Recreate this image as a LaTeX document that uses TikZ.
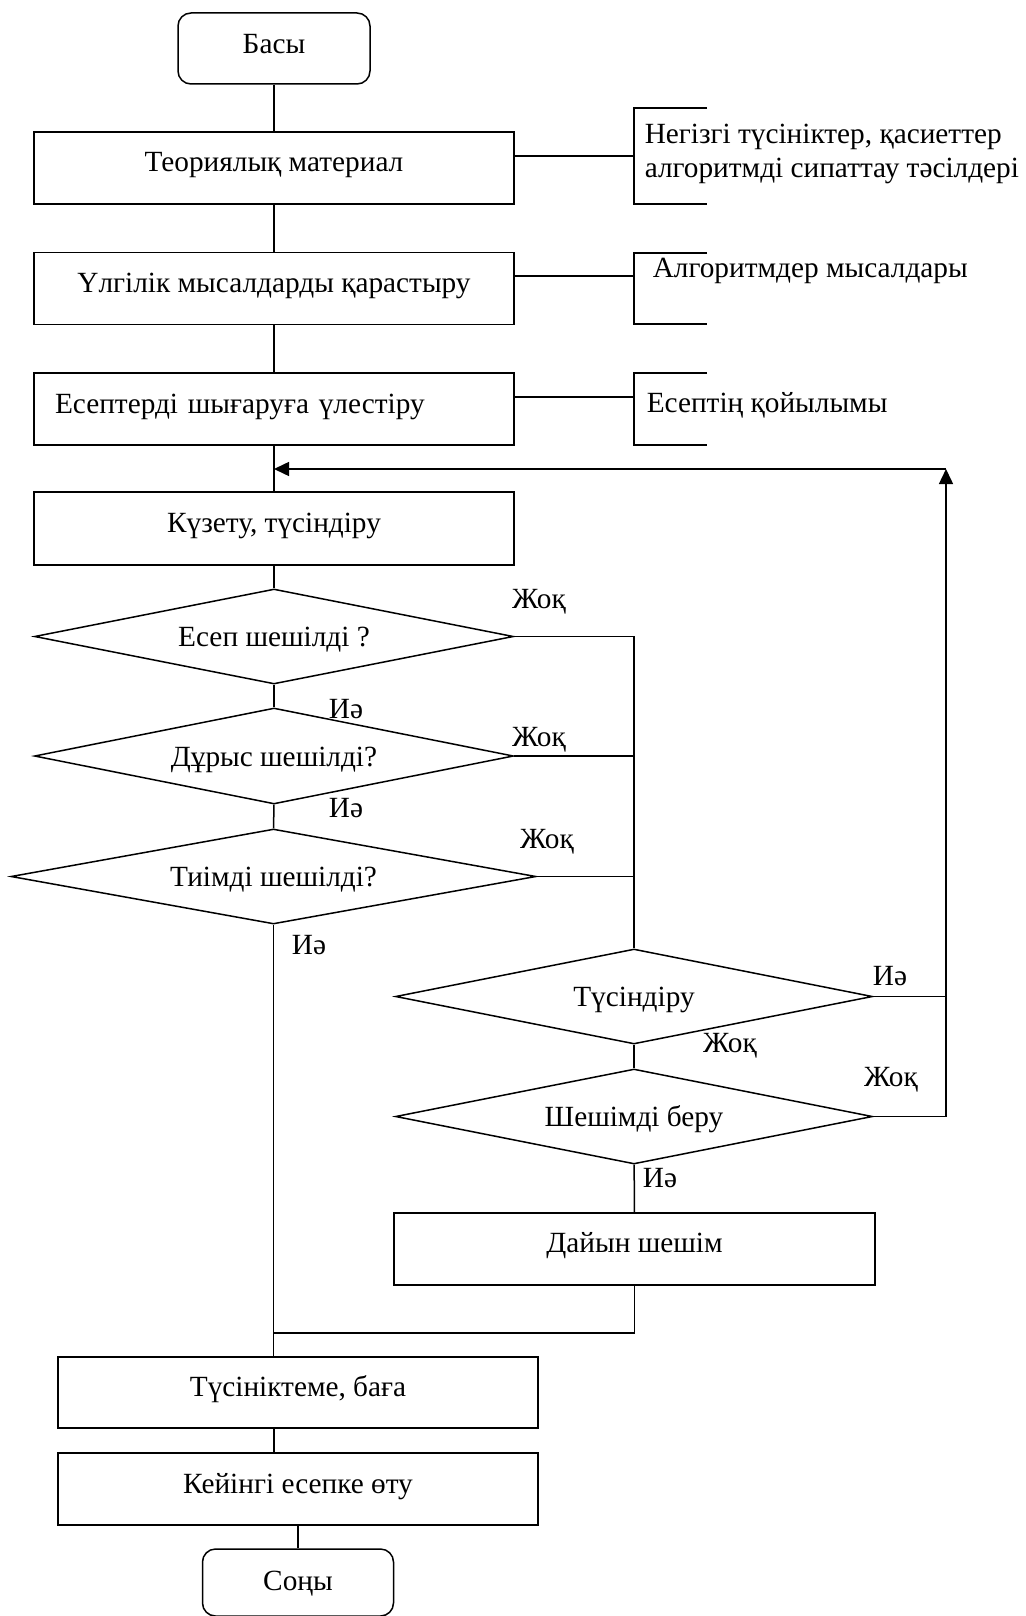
\documentclass[tikz,border=0pt]{standalone}
\usepackage{fontspec}
\setmainfont{Liberation Serif}
\usetikzlibrary{arrows.meta,shapes.geometric}
\begin{document}
\begin{tikzpicture}[x=1pt,y=-1pt,line width=1.5pt,
  every node/.style={font=\fontsize{29.3}{34}\selectfont},
  box/.style={draw,rectangle,inner sep=0pt,minimum width=480pt,minimum height=72pt,text height=20pt,text depth=12pt},
  term/.style={draw,rectangle,rounded corners=13pt,inner sep=0pt,minimum width=192pt,minimum height=71pt,text height=20pt,text depth=10pt},
  dec/.style={draw,diamond,aspect=5.2,inner sep=0pt,minimum width=479pt,minimum height=95pt,text height=22pt,text depth=1.6pt},
  lbl/.style={inner sep=0pt},
  note/.style={inner sep=0pt,anchor=west,align=left},
  tip/.style={-{Triangle[length=15pt,width=14pt]}}
]
\useasboundingbox (0,0) rectangle (1025,1616);

% main column
\node[term] (start) at (274,48.5) {Басы};
\node[box] (theory) at (274,168) {Теориялық материал};
\node[box] (examples) at (274,288.5) {Үлгілік мысалдарды қарастыру};
\node[box,text width=438pt,inner xsep=21pt,align=left] (distrib) at (274,409) {Есептерді шығаруға үлестіру};
\node[box,minimum height=73pt] (observe) at (274,528.5) {Күзету, түсіндіру};
\node[dec] (d1) at (274,636.5) {Есеп шешілді ?\hspace{28pt}};
\node[dec,minimum height=96pt] (d2) at (274,756) {Дұрыс шешілді?};
\node[dec,minimum width=525pt] (d3) at (273.5,876.5) {Тиімді шешілді?};
\node[dec,minimum width=477pt] (d4) at (634,996.5) {Түсіндіру};
\node[dec,minimum width=477pt] (d5) at (634,1116.5) {Шешімді беру\hspace{40pt}};
\node[box,minimum width=481pt,text depth=13pt] (ready) at (634.5,1249) {Дайын шешім};
\node[box,minimum height=71pt] (comment) at (298,1392.5) {Түсініктеме, баға};
\node[box] (next) at (298,1489) {Кейінгі есепке өту};
\node[term,minimum width=191pt,minimum height=67pt,text depth=5pt] (end) at (298,1582.5) {Соңы};

% annotations
\node[note] (n1) at (644,154) {Негізгі түсініктер, қасиеттер\\алгоритмді сипаттау тәсілдері};
\node[note] (n2) at (652,271) {Алгоритмдер мысалдары};
\node[note] (n3) at (646,405) {Есептің қойылымы};
\coordinate (b1) at (634,156);
\coordinate (b2) at (634,276);
\coordinate (b3) at (634,397);
\draw (707,108) -- (634,108) -- (634,204) -- (707,204);
\draw (707,253) -- (634,253) -- (634,324) -- (707,324);
\draw (707,373) -- (634,373) -- (634,445) -- (707,445);
\draw (theory.east |- b1) -- (b1);
\draw (examples.east |- b2) -- (b2);
\draw (distrib.east |- b3) -- (b3);

% labels
\node[lbl] (l1) at (539,602) {Жоқ};
\node[lbl] (l2) at (346,709) {Иә};
\node[lbl] (l3) at (539,740) {Жоқ};
\node[lbl] (l4) at (346,808) {Иә};
\node[lbl] (l5) at (547,842) {Жоқ};
\node[lbl] (l6) at (309,945) {Иә};
\node[lbl] (l7) at (890,976) {Иә};
\node[lbl] (l8) at (730,1046) {Жоқ};
\node[lbl] (l9) at (891,1080) {Жоқ};
\node[lbl] (l10) at (660,1178) {Иә};

% connectors
\coordinate (loopTop) at (946,469);
\coordinate (merge) at (274,469);
\coordinate (join) at (274,1333);
\draw (start) -- (theory);
\draw (theory) -- (examples);
\draw (examples) -- (distrib);
\draw (distrib) -- (observe);
\draw (observe) -- (d1);
\draw (d1) -- (d2);
\draw (d2) -- (d3);
\draw (d1.east) -- (d1.east -| d4.north) -- (d4.north);
\draw (d2.east) -- (d2.east -| d4.north);
\draw (d3.east) -- (d3.east -| d4.north);
\draw (d4) -- (d5);
\draw (d5) -- (ready);
\draw (d4.east) -- (d4.east -| loopTop);
\draw[tip] (d5.east) -- (d5.east -| loopTop) -- (loopTop);
\draw[tip] (loopTop) -- (merge);
\draw (ready.south) -- (ready.south |- join) -- (join);
\draw (d3.south) -- (d3.south |- comment.north);
\draw (comment.south -| merge) -- (next.north -| merge);
\draw (next) -- (end);
\end{tikzpicture}
\end{document}
